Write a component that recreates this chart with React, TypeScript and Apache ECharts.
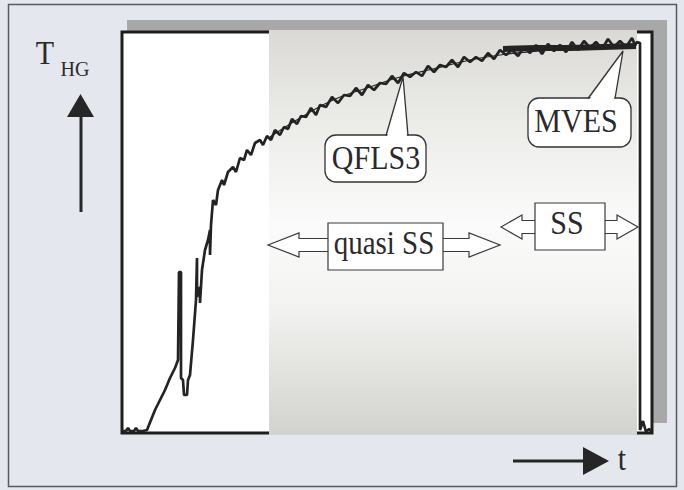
import React, { useEffect, useRef } from "react";
import * as echarts from "echarts";

// time (arbitrary units) and heater-gas temperature (arbitrary units)
const measT = [0, 4, 6, 8, 12, 14, 16, 21, 25, 29, 33, 38, 43, 48, 53, 56, 57, 59, 59, 61, 62, 65, 66, 68, 71, 74, 75, 75, 77, 78, 78, 80, 83, 86, 88, 88, 89, 91, 94, 96, 100, 102, 106, 111, 114, 118, 122, 125, 129, 133, 138, 141, 145, 149, 153, 158, 162, 166, 170, 175, 179, 184, 189, 194, 198, 204, 210, 216, 222, 228, 234, 240, 246, 252, 258, 264, 270, 276, 282, 288, 294, 300, 306, 312, 318, 324, 330, 336, 342, 348, 354, 360, 366, 372, 378, 384, 390, 396, 402, 408, 414, 420, 426, 432, 438, 444, 450, 456, 462, 468, 474, 480, 486, 492, 498, 504, 510, 513, 515, 518, 518, 521, 524, 527, 530];
const measY = [2, 2, 5, 2, 2, 5, 2, 2, 3, 13, 23, 33, 43, 55, 65, 73, 161, 161, 55, 53, 38, 38, 53, 58, 93, 133, 175, 136, 143, 146, 130, 163, 183, 193, 203, 178, 208, 233, 228, 243, 253, 248, 261, 266, 261, 275, 273, 283, 278, 290, 293, 288, 297, 293, 303, 298, 306, 304, 314, 309, 317, 316, 325, 318, 328, 326, 336, 330, 338, 337, 345, 338, 348, 343, 350, 349, 357, 350, 360, 356, 361, 357, 367, 361, 368, 366, 373, 366, 376, 371, 376, 372, 380, 374, 383, 378, 383, 377, 386, 380, 388, 379, 389, 382, 388, 381, 391, 383, 392, 385, 391, 384, 394, 386, 392, 386, 395, 388, 391, 390, 3, 12, 1, 4, 1];

const qflsT = [148, 178, 211, 245, 278, 311, 344, 378, 418, 458, 498, 515];
const qflsY = [296, 315, 333, 345, 356, 364, 372, 378, 382, 385, 387, 388];

const mvesT = [381, 415, 448, 481, 514];
const mvesY = [384, 385, 385, 386, 387];

const labels = {
  yAxis: "T",
  ySub: "HG",
  xAxis: "t",
  fit: "QFLS3",
  est: "MVES",
  quasi: "quasi SS",
  ss: "SS",
};

const pairs = (xs: number[], ys: number[]) => xs.map((x, i) => [x, ys[i]]);

const SERIF = '"Liberation Serif", "Times New Roman", serif';
const INK = "#232323";

function label(text: string, x: number, y: number, size: number, z: number, sy = 1.15) {
  return {
    type: "text",
    z,
    x,
    y,
    scaleY: sy,
    style: { text, x: 0, y: 0, font: `${size}px ${SERIF}`, fill: "#2a2a2a", align: "center", verticalAlign: "middle" },
  };
}

function doubleArrow(x1: number, x2: number, cy: number, head: number, hh: number, sh: number, z: number) {
  return {
    type: "polygon",
    z,
    shape: {
      points: [
        [x1, cy],
        [x1 + head, cy - hh],
        [x1 + head, cy - sh],
        [x2 - head, cy - sh],
        [x2 - head, cy - hh],
        [x2, cy],
        [x2 - head, cy + hh],
        [x2 - head, cy + sh],
        [x1 + head, cy + sh],
        [x1 + head, cy + hh],
      ],
    },
    style: { fill: "#ffffff", stroke: "#3a3a3a", lineWidth: 1.2 },
  };
}

function callout(x: number, y: number, w: number, h: number, b1: number, b2: number, tip: number[], z: number) {
  return [
    {
      type: "rect",
      z,
      shape: { x, y, width: w, height: h, r: 11 },
      style: { fill: "#ffffff", stroke: "#333333", lineWidth: 1.3 },
    },
    {
      type: "polygon",
      z,
      z2: 1,
      shape: { points: [[b1 + 1, y + 2], tip, [b2 - 1, y + 2]] },
      style: { fill: "#ffffff", stroke: null },
    },
    {
      type: "polyline",
      z,
      z2: 2,
      shape: { points: [[b1, y + 0.5], tip, [b2, y + 0.5]] },
      style: { stroke: "#333333", lineWidth: 1.3, fill: null },
    },
  ];
}

export default function App() {
  const ref = useRef<HTMLDivElement>(null);
  useEffect(() => {
    if (!ref.current) return;
    const chart = echarts.init(ref.current, null, { renderer: "svg" });
    const grad = new echarts.graphic.LinearGradient(0, 0, 0, 1, [
      { offset: 0, color: "#dad9d5" },
      { offset: 0.22, color: "#ebebe8" },
      { offset: 0.48, color: "#fbfbfb" },
      { offset: 0.68, color: "#f3f3f1" },
      { offset: 1, color: "#d2d2ce" },
    ]);
    chart.setOption({
      animation: false,
      backgroundColor: "#e4e7ee",
      grid: { left: 122, top: 33, width: 530, height: 400 },
      xAxis: { type: "value", min: 0, max: 530, show: false },
      yAxis: { type: "value", min: 0, max: 400, show: false },
      series: [
        {
          name: labels.est,
          type: "line",
          z: 3,
          data: pairs(mvesT, mvesY),
          showSymbol: false,
          lineStyle: { color: INK, width: 6 },
        },
        {
          name: labels.fit,
          type: "line",
          z: 3,
          data: pairs(qflsT, qflsY),
          smooth: true,
          showSymbol: false,
          lineStyle: { color: INK, width: 1.2 },
        },
        {
          name: "measured",
          type: "line",
          z: 4,
          data: pairs(measT, measY),
          showSymbol: false,
          lineStyle: { color: INK, width: 2.7 },
        },
      ],
      graphic: {
        elements: [
          {
            type: "rect",
            z: 0,
            z2: 0,
            shape: { x: 8.5, y: 4.5, width: 668, height: 482 },
            style: { fill: "#e4e7ee", stroke: "#5a5a5a", lineWidth: 1.5 },
          },
          {
            type: "rect",
            z: 0,
            z2: 1,
            shape: { x: 127, y: 20, width: 540, height: 403 },
            style: { fill: "#a8a8a8" },
          },
          {
            type: "rect",
            z: 0,
            z2: 2,
            shape: { x: 122, y: 32, width: 530, height: 401 },
            style: { fill: "#ffffff", stroke: "#1e1e1e", lineWidth: 3 },
          },
          {
            type: "rect",
            z: 1,
            shape: { x: 269, y: 30, width: 368, height: 405 },
            style: { fill: grad },
          },
          // y-axis label and arrow
          label(labels.yAxis, 45, 53, 30, 5, 1.1),
          label(labels.ySub, 75, 69, 20, 5, 1.0),
          {
            type: "line",
            z: 5,
            shape: { x1: 81, y1: 212, x2: 81, y2: 112 },
            style: { stroke: "#262626", lineWidth: 3 },
          },
          {
            type: "polygon",
            z: 5,
            shape: { points: [[67, 117], [94, 117], [80.5, 94]] },
            style: { fill: "#262626" },
          },
          // x-axis arrow and label
          {
            type: "line",
            z: 5,
            shape: { x1: 513, y1: 461, x2: 588, y2: 461 },
            style: { stroke: "#262626", lineWidth: 3 },
          },
          {
            type: "polygon",
            z: 5,
            shape: { points: [[583, 447], [583, 475], [609, 461]] },
            style: { fill: "#262626" },
          },
          label(labels.xAxis, 622, 459, 30, 5, 1.1),
          // callouts
          ...callout(325, 135, 101, 47, 386, 408, [403, 77], 8),
          label(labels.fit, 376, 157, 30, 9),
          ...callout(528, 98, 103, 49, 588, 615, [623, 51], 8),
          label(labels.est, 576, 120, 30, 9),
          // regime arrows
          doubleArrow(268, 500, 245, 31, 12, 6.5, 8),
          {
            type: "rect",
            z: 8,
            z2: 1,
            shape: { x: 328, y: 223, width: 115, height: 47 },
            style: { fill: "#ffffff", stroke: "#3a3a3a", lineWidth: 1.2 },
          },
          label(labels.quasi, 384, 243, 29, 9),
          doubleArrow(501, 638, 227, 21, 12, 6.5, 8),
          {
            type: "rect",
            z: 8,
            z2: 1,
            shape: { x: 535, y: 203, width: 70, height: 47 },
            style: { fill: "#ffffff", stroke: "#3a3a3a", lineWidth: 1.2 },
          },
          label(labels.ss, 567, 222, 30, 9),
        ],
      },
    });
    return () => chart.dispose();
  }, []);
  return <div ref={ref} style={{ position: "fixed", left: 0, top: 0, width: 684, height: 490 }} />;
}
